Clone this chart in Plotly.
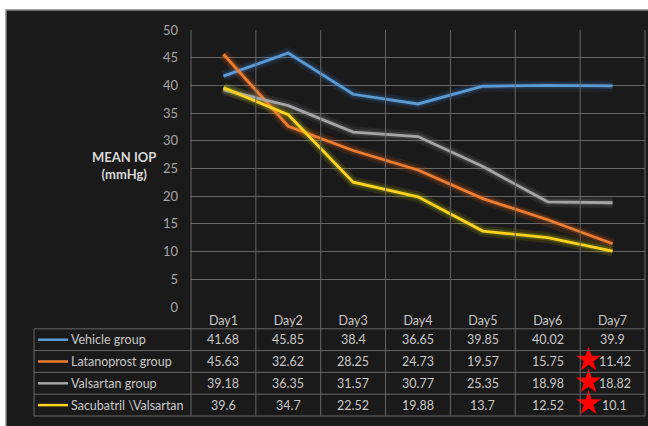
import plotly.graph_objects as go

days = ["Day1", "Day2", "Day3", "Day4", "Day5", "Day6", "Day7"]
groups = ["Vehicle group", "Latanoprost group", "Valsartan group", "Sacubatril \\Valsartan"]
vehicle = [41.68, 45.85, 38.4, 36.65, 39.85, 40.02, 39.9]
latanoprost = [45.63, 32.62, 28.25, 24.73, 19.57, 15.75, 11.42]
valsartan = [39.18, 36.35, 31.57, 30.77, 25.35, 18.98, 18.82]
sacubatril = [39.6, 34.7, 22.52, 19.88, 13.7, 12.52, 10.1]
series = [vehicle, latanoprost, valsartan, sacubatril]
starred_day7 = [False, True, True, True]
colors = ["#5B9BD5", "#ED7D31", "#A5A5A5", "#FFD21F"]
glow = ["#3a78c0", "#e0661a", "#8a8a8a", "#c8d000"]

W, H = 648, 426
L, R, T, B = 191, 3, 30, 10
plot_w = W - L - R
plot_h = H - T - B
bottom_px = H - B          # bottom of table
chart_bottom_px = 307      # bottom of line chart
split = (bottom_px - chart_bottom_px) / plot_h
YMAX = 50

def py(p):
    return (bottom_px - p) / plot_h

def px(p):
    return (p - L) / plot_w

n = len(days)
xi = list(range(n))
n_rows = len(groups) + 1  # header row + one row per group

fig = go.Figure()

for s, g in zip(series, glow):
    fig.add_trace(go.Scatter(x=xi, y=s, mode="lines", line=dict(color=g, width=11),
                             opacity=0.12, hoverinfo="skip", showlegend=False))
    fig.add_trace(go.Scatter(x=xi, y=s, mode="lines", line=dict(color=g, width=6),
                             opacity=0.22, hoverinfo="skip", showlegend=False))
for s, c, name in zip(series, colors, groups):
    fig.add_trace(go.Scatter(x=xi, y=s, mode="lines", line=dict(color=c, width=2.8),
                             name=name, showlegend=False))

grid = "#666666"
txt = "#c8c8c8"
font = "Lato"

shapes = []
shapes.append(dict(type="rect", xref="paper", yref="paper", layer="below",
                   x0=px(6), x1=px(652), y0=py(430), y1=py(10),
                   fillcolor="#1b1a1a", line=dict(color="#8a8a8a", width=1.5)))

table_left = 34
row_h = (bottom_px - chart_bottom_px) / n_rows

def row_py(r):  # paper y of row index r (table axis units)
    return py(chart_bottom_px + (r + 0.5) * row_h)

for i in range(n + 1):
    shapes.append(dict(type="line", xref="paper", yref="paper",
                       x0=i / n, x1=i / n, y0=1, y1=0,
                       line=dict(color=grid, width=1)))
shapes.append(dict(type="line", xref="paper", yref="paper",
                   x0=px(table_left), x1=px(table_left), y0=row_py(0.5), y1=0,
                   line=dict(color=grid, width=1)))
for r in range(1, n_rows + 1):
    yy = row_py(r - 0.5)
    shapes.append(dict(type="line", xref="paper", yref="paper",
                       x0=px(table_left), x1=1, y0=yy, y1=yy,
                       line=dict(color=grid, width=1)))

annotations = []
for k, (g, c) in enumerate(zip(groups, colors)):
    r = k + 1
    shapes.append(dict(type="line", xref="paper", yref="paper",
                       x0=px(38), x1=px(68), y0=row_py(r), y1=row_py(r),
                       line=dict(color=c, width=2.5)))
    annotations.append(dict(text=g, xref="paper", yref="y2", x=px(69), y=r,
                            xanchor="left", yanchor="middle", showarrow=False,
                            font=dict(family=font, size=12.5, color=txt)))
star_x, star_y = [], []
for k, (s, st) in enumerate(zip(series, starred_day7)):
    r = k + 1
    for i, v in zip(xi, s):
        annotations.append(dict(text=str(v), xref="x2", yref="y2", x=i, y=r,
                                xshift=2 if (st and i == n - 1) else 0,
                                xanchor="center", yanchor="middle", showarrow=False,
                                font=dict(family=font, size=12.5, color=txt)))
    if st:
        star_x.append(n - 1 - 0.37)
        star_y.append(r - 0.08)

fig.add_trace(go.Scatter(x=star_x, y=star_y, xaxis="x2", yaxis="y2", mode="markers",
                         marker=dict(symbol="star", size=19, color="#ff0000",
                                     line=dict(width=0)),
                         cliponaxis=False, hoverinfo="skip", showlegend=False))

annotations.append(dict(text="<b>MEAN IOP</b><br><b>(mmHg)</b>", xref="paper", yref="paper",
                        x=px(124), y=py(165), xanchor="center", yanchor="middle",
                        showarrow=False, align="center",
                        font=dict(family=font, size=13, color="#d9d9d9")))

fig.update_layout(
    width=W, height=H,
    margin=dict(l=L, r=R, t=T, b=B),
    paper_bgcolor="#ffffff",
    plot_bgcolor="rgba(0,0,0,0)",
    shapes=shapes,
    annotations=annotations,
    xaxis=dict(type="linear", range=[-0.5, n - 0.5], tickvals=xi, ticktext=days,
               domain=[0, 1], anchor="y",
               showgrid=False, zeroline=False, showline=False,
               ticks="", ticklabelstandoff=4,
               tickfont=dict(family=font, size=12.5, color=txt)),
    yaxis=dict(range=[0, YMAX], dtick=5, tick0=0, domain=[split, 1], anchor="x",
               showgrid=True, gridcolor=grid, gridwidth=1,
               zeroline=False, showline=False, ticks="", ticklabelstandoff=12,
               tickfont=dict(family=font, size=13, color="#a6a6a6")),
    xaxis2=dict(type="linear", range=[-0.5, n - 0.5], domain=[0, 1], anchor="y2",
                visible=False),
    yaxis2=dict(range=[n_rows - 0.5, -0.5], domain=[0, split], anchor="x2",
                visible=False),
)

fig.write_html("out.html")
